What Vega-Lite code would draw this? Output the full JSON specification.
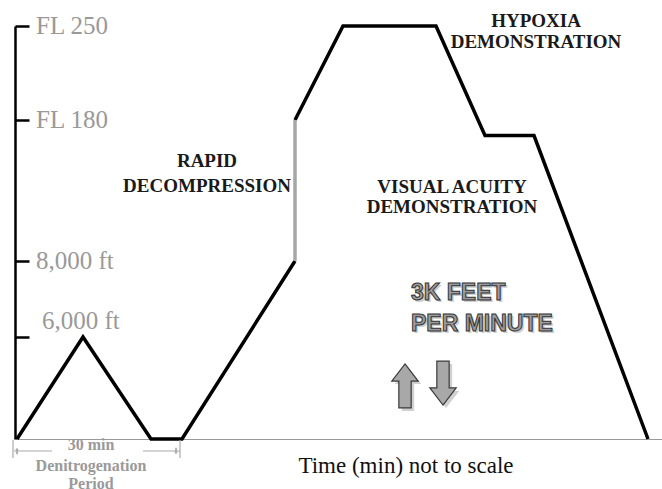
{
  "$schema": "https://vega.github.io/schema/vega-lite/v6.json",
  "width": 647,
  "height": 419,
  "autosize": {"type": "none"},
  "padding": {"left": 15, "top": 20, "right": 0, "bottom": 50},
  "background": "white",
  "config": {"view": {"stroke": null}},
  "datasets": {
    "profile": [
      {"t": 2, "alt": 0, "part": "a"},
      {"t": 68, "alt": 6000, "part": "a"},
      {"t": 136, "alt": 0, "part": "a"},
      {"t": 167, "alt": 0, "part": "a"},
      {"t": 280, "alt": 8000, "part": "a"},
      {"t": 280, "alt": 18000, "part": "b"},
      {"t": 328, "alt": 25000, "part": "b"},
      {"t": 421, "alt": 25000, "part": "b"},
      {"t": 470, "alt": 16900, "part": "b"},
      {"t": 519, "alt": 16900, "part": "b"},
      {"t": 633, "alt": 0, "part": "b"}
    ],
    "rapid": [{"t": 280, "alt": 8000, "alt2": 18000}],
    "ylabels": [
      {"label": "FL 250", "t": 21, "alt": 25000},
      {"label": "FL 180", "t": 21, "alt": 18000},
      {"label": "8,000 ft", "t": 21, "alt": 8000},
      {"label": "6,000 ft", "t": 27, "alt": 6421}
    ],
    "notes": [
      {"label": "RAPID", "t": 192, "alt": 15058},
      {"label": "DECOMPRESSION", "t": 192, "alt": 13321},
      {"label": "VISUAL ACUITY", "t": 437, "alt": 13250},
      {"label": "DEMONSTRATION", "t": 437, "alt": 11832},
      {"label": "HYPOXIA", "t": 521, "alt": 25373},
      {"label": "DEMONSTRATION", "t": 521, "alt": 23808}
    ],
    "rate": [
      {"label": "3K FEET", "t": 396, "alt": 7157},
      {"label": "PER MINUTE", "t": 396, "alt": 6342}
    ],
    "arrows": [
      {"dir": "up", "t": 390, "alt": 3120},
      {"dir": "down", "t": 428, "alt": 3290}
    ],
    "bracket": [
      {"t": -2, "alt": -59, "t2": -2, "alt2": -1117},
      {"t": 165, "alt": -59, "t2": 165, "alt2": -1117},
      {"t": -1, "alt": -706, "t2": 37, "alt2": -706},
      {"t": 128, "alt": -706, "t2": 165, "alt2": -706}
    ],
    "heads": [
      {"side": "left", "t": 2, "alt": -706},
      {"side": "right", "t": 161, "alt": -706}
    ],
    "period": [
      {"label": "30 min", "t": 76, "alt": -353},
      {"label": "Denitrogenation", "t": 76, "alt": -1588},
      {"label": "Period", "t": 76, "alt": -2647}
    ],
    "xtitle": [{"label": "Time (min) not to scale", "t": 391, "alt": -1560}]
  },
  "layer": [
    {
      "data": {"name": "profile"},
      "mark": {"type": "line", "color": "black", "strokeWidth": 3.5, "strokeJoin": "miter", "strokeCap": "butt"},
      "encoding": {
        "x": {
          "field": "t", "type": "quantitative",
          "scale": {"domain": [0, 647], "nice": false, "zero": false},
          "axis": {"domainColor": "#9a9a9a", "domainWidth": 1.2, "ticks": false, "labels": false, "title": null, "grid": false}
        },
        "y": {
          "field": "alt", "type": "quantitative",
          "scale": {"domain": [0, 6000, 8000, 18000, 25000], "range": [419, 317, 241, 100, 6], "nice": false, "zero": false},
          "axis": {"values": [6000, 8000, 18000, 25000], "labels": false, "title": null, "grid": false, "domainColor": "black", "domainWidth": 2.5, "tickColor": "black", "tickWidth": 2.5, "tickSize": -14}
        },
        "detail": {"field": "part"},
        "order": {"field": "t", "type": "quantitative"}
      }
    },
    {
      "data": {"name": "rapid"},
      "mark": {"type": "rule", "color": "#a6a6a6", "strokeWidth": 3.5},
      "encoding": {
        "x": {"field": "t", "type": "quantitative"},
        "y": {"field": "alt", "type": "quantitative"},
        "y2": {"field": "alt2"}
      }
    },
    {
      "data": {"name": "ylabels"},
      "mark": {"type": "text", "align": "left", "baseline": "middle", "font": "Liberation Serif", "fontSize": 25, "color": "#999999"},
      "encoding": {
        "x": {"field": "t", "type": "quantitative"},
        "y": {"field": "alt", "type": "quantitative"},
        "text": {"field": "label"}
      }
    },
    {
      "data": {"name": "notes"},
      "mark": {"type": "text", "align": "center", "baseline": "middle", "font": "Liberation Serif", "fontWeight": "bold", "fontSize": 19, "color": "#1a1a1a"},
      "encoding": {
        "x": {"field": "t", "type": "quantitative"},
        "y": {"field": "alt", "type": "quantitative"},
        "text": {"field": "label"}
      }
    },
    {
      "data": {"name": "rate"},
      "mark": {"type": "text", "align": "left", "baseline": "middle", "font": "Liberation Sans", "fontWeight": "bold", "fontSize": 23, "color": "#cfcfcf", "xOffset": 2, "yOffset": 2},
      "encoding": {
        "x": {"field": "t", "type": "quantitative"},
        "y": {"field": "alt", "type": "quantitative"},
        "text": {"field": "label"}
      }
    },
    {
      "data": {"name": "rate"},
      "mark": {"type": "text", "align": "left", "baseline": "middle", "font": "Liberation Sans", "fontWeight": "bold", "fontSize": 23, "fill": "#9c9c9c", "stroke": "#333333", "strokeWidth": 1},
      "encoding": {
        "x": {"field": "t", "type": "quantitative"},
        "y": {"field": "alt", "type": "quantitative"},
        "text": {"field": "label"}
      }
    },
    {
      "data": {"name": "arrows"},
      "mark": {"type": "point", "filled": true, "fill": "#d0d0d0", "opacity": 1, "size": 1936, "xOffset": 3, "yOffset": 3},
      "encoding": {
        "x": {"field": "t", "type": "quantitative"},
        "y": {"field": "alt", "type": "quantitative"},
        "shape": {"field": "dir", "type": "nominal", "legend": null,
          "scale": {"domain": ["up", "down"], "range": ["M0,-1L0.6,-0.22L0.28,-0.22L0.28,1L-0.28,1L-0.28,-0.22L-0.6,-0.22Z", "M0,1L0.6,0.22L0.28,0.22L0.28,-1L-0.28,-1L-0.28,0.22L-0.6,0.22Z"]}}
      }
    },
    {
      "data": {"name": "arrows"},
      "mark": {"type": "point", "filled": true, "fill": "#a8a8a8", "stroke": "#3a3a3a", "strokeWidth": 1.2, "opacity": 1, "size": 1936},
      "encoding": {
        "x": {"field": "t", "type": "quantitative"},
        "y": {"field": "alt", "type": "quantitative"},
        "shape": {"field": "dir", "type": "nominal", "legend": null,
          "scale": {"domain": ["up", "down"], "range": ["M0,-1L0.6,-0.22L0.28,-0.22L0.28,1L-0.28,1L-0.28,-0.22L-0.6,-0.22Z", "M0,1L0.6,0.22L0.28,0.22L0.28,-1L-0.28,-1L-0.28,0.22L-0.6,0.22Z"]}}
      }
    },
    {
      "data": {"name": "bracket"},
      "mark": {"type": "rule", "color": "#aaaaaa", "strokeWidth": 1.2},
      "encoding": {
        "x": {"field": "t", "type": "quantitative"},
        "y": {"field": "alt", "type": "quantitative"},
        "x2": {"field": "t2"},
        "y2": {"field": "alt2"}
      }
    },
    {
      "data": {"name": "heads"},
      "mark": {"type": "point", "filled": true, "color": "#aaaaaa", "opacity": 1, "size": 40},
      "encoding": {
        "x": {"field": "t", "type": "quantitative"},
        "y": {"field": "alt", "type": "quantitative"},
        "shape": {"field": "side", "type": "nominal", "legend": null,
          "scale": {"domain": ["left", "right"], "range": ["triangle-left", "triangle-right"]}}
      }
    },
    {
      "data": {"name": "period"},
      "mark": {"type": "text", "align": "center", "baseline": "middle", "font": "Liberation Serif", "fontWeight": "bold", "fontSize": 16, "color": "#9a9a9a"},
      "encoding": {
        "x": {"field": "t", "type": "quantitative"},
        "y": {"field": "alt", "type": "quantitative"},
        "text": {"field": "label"}
      }
    },
    {
      "data": {"name": "xtitle"},
      "mark": {"type": "text", "align": "center", "baseline": "middle", "font": "Liberation Serif", "fontSize": 23, "color": "#111111"},
      "encoding": {
        "x": {"field": "t", "type": "quantitative"},
        "y": {"field": "alt", "type": "quantitative"},
        "text": {"field": "label"}
      }
    }
  ]
}
